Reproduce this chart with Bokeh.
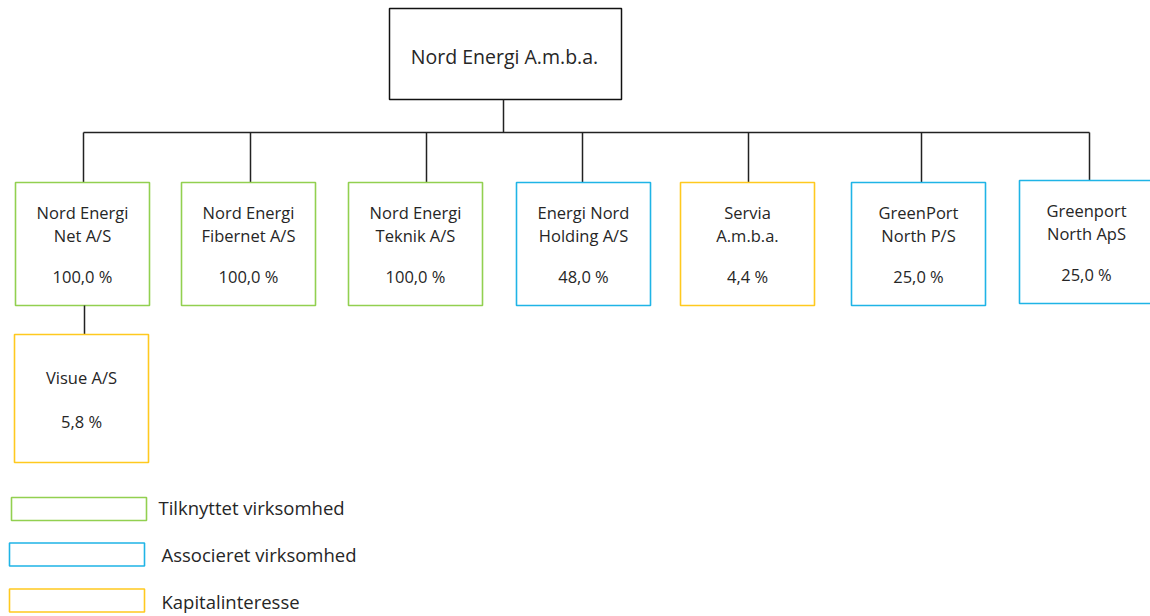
from bokeh.plotting import figure
from bokeh.models import Range1d, ColumnDataSource
from bokeh.core.properties import value
from bokeh.embed import file_html
from bokeh.resources import INLINE

# ---- data ----
parent_name = "Nord Energi A.m.b.a."
child_names = ["Nord Energi\nNet A/S", "Nord Energi\nFibernet A/S", "Nord Energi\nTeknik A/S",
               "Energi Nord\nHolding A/S", "Servia\nA.m.b.a.", "GreenPort\nNorth P/S",
               "Greenport\nNorth ApS"]
child_pct = [100.0, 100.0, 100.0, 48.0, 4.4, 25.0, 25.0]
child_type = ["tilknyttet", "tilknyttet", "tilknyttet", "associeret", "kapital",
              "associeret", "associeret"]
sub_name = "Visue A/S"
sub_pct = 5.8
sub_type = "kapital"
sub_parent = 0
legend_types = ["tilknyttet", "associeret", "kapital"]
legend_labels = ["Tilknyttet virksomhed", "Associeret virksomhed", "Kapitalinteresse"]

# ---- styles / layout ----
colors = {"tilknyttet": "#92D050", "associeret": "#1FB4E6", "kapital": "#FFC91F"}
FONT = "Open Sans"
TXT = "#262626"
BOX_FS = "16.5px"
box_w = 134
child_left = [15, 181, 348, 516, 680, 851, 1019]
child_top = [182, 182, 182, 182, 182, 182, 180]
child_h = 123
conn_x = [83, 250, 426, 582, 748, 921, 1089]
bus_y = 132
W, H = 1150, 616


def fmt(v):
    return f"{v:.1f}".replace(".", ",") + " %"


p = figure(width=W, height=H, x_range=Range1d(0, W), y_range=Range1d(H, 0),
           output_backend="svg", toolbar_location=None, min_border=0)
p.axis.visible = False
p.grid.visible = False
p.outline_line_color = None
p.background_fill_color = "white"
p.border_fill_color = "white"

# top box
p.quad(left=[389], right=[621], top=[8], bottom=[99], fill_color=None,
       line_color="#111111", line_width=1.5)
p.text(x=[504], y=[56], text=[parent_name], text_align="center", text_baseline="middle",
       text_font=value(FONT), text_font_size="19.5px", text_color=TXT)

# connectors
p.segment(x0=[503], y0=[99], x1=[503], y1=[bus_y], line_color="#222222", line_width=1.5)
p.segment(x0=[conn_x[0]], y0=[bus_y], x1=[conn_x[-1]], y1=[bus_y], line_color="#222222",
          line_width=1.5)
p.segment(x0=conn_x, y0=[bus_y] * len(conn_x), x1=conn_x, y1=child_top,
          line_color="#222222", line_width=1.5)

# child boxes
src = ColumnDataSource(dict(
    left=child_left,
    right=[l + box_w for l in child_left],
    top=child_top,
    bottom=[t + child_h for t in child_top],
    color=[colors[t] for t in child_type],
    cx=[l + box_w / 2 for l in child_left],
    y1=[t + 29.5 for t in child_top],
    y2=[t + 52.5 for t in child_top],
    y3=[t + 93.5 for t in child_top],
    l1=[n.split("\n")[0] for n in child_names],
    l2=[n.split("\n")[1] for n in child_names],
    pct=[fmt(v) for v in child_pct],
))
p.quad(left="left", right="right", top="top", bottom="bottom", source=src,
       fill_color=None, line_color="color", line_width=1.6)
for col, ycol in [("l1", "y1"), ("l2", "y2"), ("pct", "y3")]:
    p.text(x="cx", y=ycol, text=col, source=src,
           text_align="center", text_baseline="middle", text_font=value(FONT),
           text_font_size=BOX_FS, text_color=TXT)

# sub box
sx = child_left[sub_parent] - 1
sc = sx + box_w / 2
p.segment(x0=[conn_x[sub_parent] + 1], y0=[child_top[sub_parent] + child_h],
          x1=[conn_x[sub_parent] + 1], y1=[334], line_color="#222222", line_width=1.5)
p.quad(left=[sx], right=[sx + box_w], top=[334], bottom=[462], fill_color=None,
       line_color=colors[sub_type], line_width=1.6)
p.text(x=[sc], y=[376.5], text=[sub_name], text_align="center", text_baseline="middle",
       text_font=value(FONT), text_font_size=BOX_FS, text_color=TXT)
p.text(x=[sc], y=[420.5], text=[fmt(sub_pct)], text_align="center", text_baseline="middle",
       text_font=value(FONT), text_font_size=BOX_FS, text_color=TXT)

# legend
leg_y = [508.5, 554, 600]
leg_left = [11, 9, 9]
p.quad(left=leg_left, right=[l + 135 for l in leg_left], top=[y - 11.5 for y in leg_y],
       bottom=[y + 11.5 for y in leg_y], fill_color=None,
       line_color=[colors[t] for t in legend_types], line_width=1.6)
p.text(x=[158, 161, 161], y=[507, 554, 601], text=legend_labels, text_align="left",
       text_baseline="middle", text_font=value(FONT), text_font_size="18.5px", text_color=TXT)

open("out.html", "w").write(file_html(p, INLINE))
